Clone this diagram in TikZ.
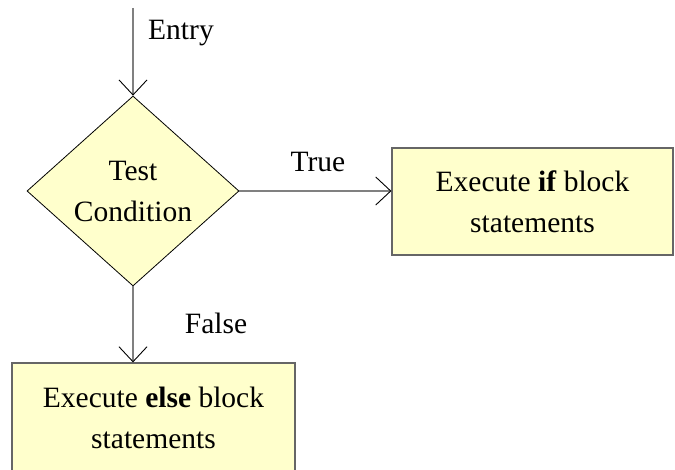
\documentclass[tikz,border=0pt]{standalone}
\usepackage{fontspec}
\setmainfont{Liberation Serif}
\usetikzlibrary{arrows.meta, shapes.geometric}

\definecolor{boxfill}{HTML}{FFFFCC}
\definecolor{linegray}{HTML}{808080}

\tikzset{
  flowline/.style={draw=linegray, line width=1.6pt,
    -{Straight Barb[length=15pt, width=28pt, line width=0.9pt, color=black]}},
  decision/.style={diamond, draw=black, line width=0.8pt, fill=boxfill,
    minimum width=212pt, minimum height=190pt, inner sep=0pt, align=center},
  block/.style={rectangle, draw=black!60, line width=1.2pt, fill=boxfill,
    inner sep=0pt, align=center},
  lbl/.style={inner sep=0pt}
}

\begin{document}
\begin{tikzpicture}[x=1pt, y=-1pt, font=\fontsize{29.5}{41}\selectfont]

\useasboundingbox (0,0) rectangle (675,470);

\coordinate (start) at (133,8);
\node[decision] (test) at (133,191) {Test\\Condition};

\node[block, minimum width=281pt, minimum height=107pt] (ifblock) at (532.5,201.5)
  {Execute \textbf{if} block\\statements};

\node[block, minimum width=283pt, minimum height=110pt] (elseblock) at (153.5,418)
  {Execute \textbf{else} block\\statements};

\draw[flowline] (start) -- (test.north);
\draw[flowline] (test.east) -- (test.east -| ifblock.west);
\draw[flowline] (test.south) -- (test.south |- elseblock.north);

% labels on the branches
\node[lbl, anchor=west] (entrylbl) at (148,33) {Entry};
\node[lbl] (truelbl) at (318,162) {True};
\node[lbl] (falselbl) at (216,323) {False};

\end{tikzpicture}
\end{document}
